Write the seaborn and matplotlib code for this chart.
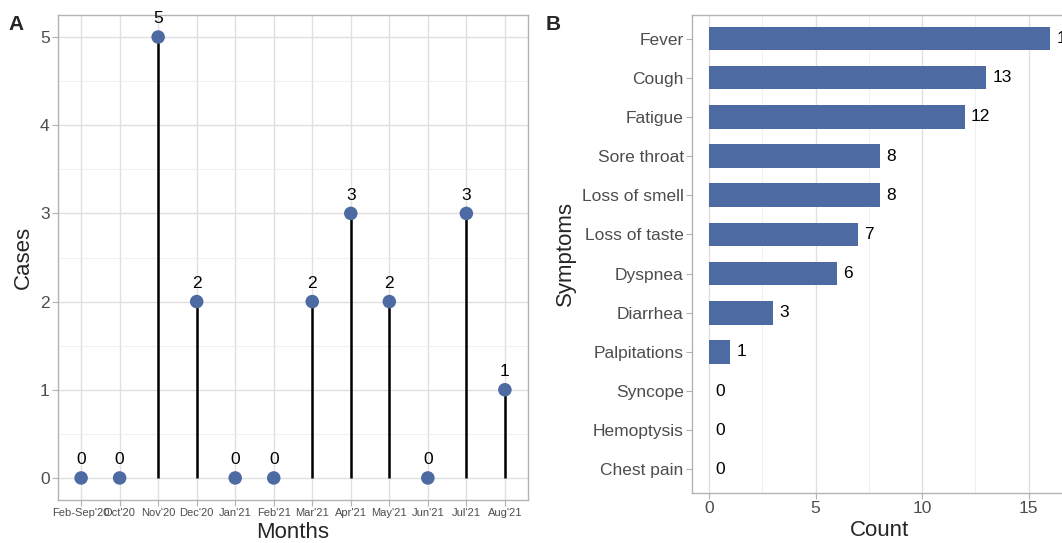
import matplotlib
matplotlib.use("Agg")
import matplotlib.pyplot as plt
import seaborn as sns
import pandas as pd
from matplotlib.ticker import MultipleLocator

months = ["Feb-Sep'20", "Oct'20", "Nov'20", "Dec'20", "Jan'21", "Feb'21",
          "Mar'21", "Apr'21", "May'21", "Jun'21", "Jul'21", "Aug'21"]
cases = [0, 0, 5, 2, 0, 0, 2, 3, 2, 0, 3, 1]

symptoms = ["Fever", "Cough", "Fatigue", "Sore throat", "Loss of smell",
            "Loss of taste", "Dyspnea", "Diarrhea", "Palpitations",
            "Syncope", "Hemoptysis", "Chest pain"]
counts = [16, 13, 12, 8, 8, 7, 6, 3, 1, 0, 0, 0]

sns.set_theme(style="whitegrid")
plt.rcParams['font.family'] = ['Liberation Sans', 'DejaVu Sans']

BLUE = "#4e6aa3"
GRID = "#e0e0e0"
BORDER = "#b3b3b3"
TXT = "#4d4d4d"

fig = plt.figure(figsize=(10.62, 5.43), dpi=100)
axA = fig.add_axes([58/1062, 1-500/543, 470/1062, 485/543])
axB = fig.add_axes([692/1062, 1-493/543, 375/1062, 478/543])

def style(ax):
    ax.set_facecolor("white")
    for s in ax.spines.values():
        s.set_color(BORDER)
        s.set_linewidth(1.0)
    ax.grid(True, which="major", color=GRID, linewidth=1.0)
    ax.grid(True, which="minor", color="#eeeeee", linewidth=0.6)
    ax.set_axisbelow(True)
    ax.tick_params(axis="both", which="major", length=4, width=0.8, color=BORDER,
                   labelcolor=TXT, bottom=True, left=True)
    ax.tick_params(axis="both", which="minor", length=0)

# Panel A
dfA = pd.DataFrame({"month": months, "cases": cases})
style(axA)
nz = dfA[dfA.cases > 0]
axA.vlines([months.index(m) for m in nz.month], 0, nz.cases, color="black",
           linewidth=1.8, zorder=2)
sns.scatterplot(data=dfA, x="month", y="cases", ax=axA, color=BLUE, s=95,
                edgecolor="none", zorder=3)
for i, v in enumerate(cases):
    axA.text(i, v + 0.12, str(v), ha="center", va="bottom", fontsize=12.5,
             color="black", zorder=4)
axA.set_xlim(-0.6, 11.6)
axA.set_ylim(-0.25, 5.25)
axA.yaxis.set_minor_locator(MultipleLocator(0.5))
axA.set_yticks([0, 1, 2, 3, 4, 5])
axA.tick_params(axis="x", labelsize=8, pad=2)
axA.tick_params(axis="y", labelsize=12.5, pad=2)
axA.set_xlabel("Months", fontsize=16, labelpad=3)
axA.set_ylabel("Cases", fontsize=16, labelpad=4)

# Panel B
dfB = pd.DataFrame({"symptom": symptoms, "count": counts})
style(axB)
axB.spines["right"].set_visible(False)
sns.barplot(data=dfB, y="symptom", x="count", ax=axB, color=BLUE, width=0.6,
            orient="h", saturation=1, linewidth=0)
for i, v in enumerate(counts):
    axB.text(v + 0.3, i, str(v), ha="left", va="center", fontsize=12.5,
             color="black")
axB.set_xlim(-0.8, 16.8)
axB.set_ylim(11.6, -0.6)
axB.set_xticks([0, 5, 10, 15])
axB.xaxis.set_minor_locator(MultipleLocator(2.5))
axB.tick_params(axis="both", labelsize=12.5, pad=2)
axB.set_xlabel("Count", fontsize=16, labelpad=3)
axB.set_ylabel("Symptoms", fontsize=16, labelpad=4)

fig.text(8/1062, 1-24/543, "A", fontsize=15, fontweight="bold", va="center")
fig.text(546/1062, 1-24/543, "B", fontsize=15, fontweight="bold", va="center")

fig.savefig("out.png", dpi=100)
